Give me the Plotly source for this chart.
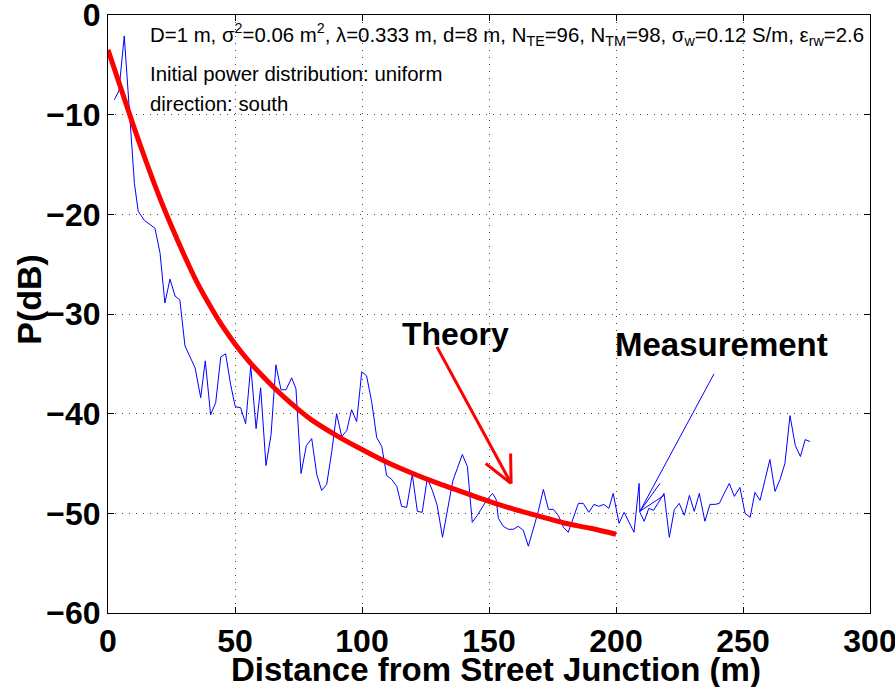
import plotly.graph_objects as go

# ---------------- data ----------------
meas_x = [2.5, 4.3, 6.4, 8.7, 10.4, 11.9, 14.3, 18.5, 20.5, 22.4, 24.4, 26.4, 28.3,
          30.3, 34.3, 36.5, 38.3, 40.4, 42.4, 44.4, 46.3, 48.3, 50.1, 52.2, 54.2,
          56.2, 58.3, 60.1, 62.2, 64.2, 66.1, 68.1, 70.1, 72.3, 74.0, 76.0, 78.1,
          80.2, 82.2, 84.1, 86.1, 88.1, 90.0, 92.0, 94.0, 95.9, 97.9, 99.9, 101.8,
          103.8, 105.8, 107.8, 109.7, 111.7, 113.7, 115.6, 117.6, 119.8, 121.8,
          123.7, 125.7, 127.7, 129.6, 131.7, 133.6, 135.7, 137.5, 139.5, 141.5,
          143.4, 145.4, 147.4, 149.3, 151.4, 152.8, 153.7, 155.6, 157.6, 159.6,
          161.5, 163.5, 165.5, 167.4, 169.4, 171.4, 173.4, 175.3, 177.3, 179.3,
          181.2, 185.2, 187.1, 189.3, 191.3, 193.2, 195.2, 197.2, 198.9, 201.2,
          203.2, 207.1, 209.1, 209.4, 211.1, 212.9, 214.8, 218.9, 221.0, 223.0,
          224.9, 226.9, 228.9, 230.8, 232.8, 235.0, 237.0, 239.0, 240.7, 242.6,
          244.6, 246.6, 248.8, 250.8, 252.8, 254.7, 256.7, 258.7, 260.6, 262.6,
          264.6, 266.5, 268.5, 270.6, 272.6, 274.5, 276.4]
meas_y = [-8.5, -7.6, -2.1, -10.2, -16.9, -19.7, -20.6, -21.4, -23.9, -28.9, -26.5,
          -28.2, -28.6, -33.2, -35.4, -38.4, -34.7, -40.1, -38.9, -34.3, -34.0,
          -37.1, -39.3, -39.4, -41.0, -35.2, -41.5, -37.4, -45.2, -42.1, -35.1,
          -37.6, -37.6, -36.4, -37.5, -46.0, -43.2, -42.5, -46.1, -47.7, -47.1,
          -43.8, -40.0, -42.3, -41.7, -39.6, -40.8, -35.8, -36.2, -38.8, -42.4,
          -43.3, -46.2, -46.6, -47.3, -49.3, -49.4, -46.1, -49.8, -49.9, -46.5,
          -47.7, -49.2, -52.4, -49.8, -46.8, -45.5, -44.1, -45.3, -50.9, -50.2,
          -49.4, -48.6, -48.0, -48.6, -50.5, -51.3, -51.6, -51.6, -51.3, -51.7,
          -53.3, -51.5, -49.8, -47.6, -49.6, -49.6, -50.2, -51.4, -51.9, -49.0,
          -49.0, -49.9, -49.1, -49.3, -49.1, -49.5, -48.0, -51.0, -49.9, -51.9,
          -47.0, -49.9, -50.8, -49.5, -49.7, -48.0, -52.4, -49.6, -49.0, -50.2,
          -48.2, -49.8, -48.0, -50.8, -49.1, -49.1, -49.0, -48.0, -47.0, -48.3,
          -47.4, -50.0, -50.4, -47.9, -48.7, -46.6, -44.6, -47.8, -46.6, -45.0,
          -40.2, -43.2, -44.3, -42.6, -42.8]

theory_x = [0, 5, 10, 15, 20, 25, 30, 35, 40, 45, 50, 55, 60, 65, 70, 75, 80, 90,
            100, 110, 120, 130, 140, 150, 160, 170, 180, 190, 200]
theory_y = [-3.5, -7.3, -11.1, -14.7, -18.1, -21.2, -24.1, -26.8, -29.1, -31.2,
            -33.0, -34.6, -36.0, -37.3, -38.5, -39.6, -40.6, -42.2, -43.6, -44.9,
            -46.0, -47.0, -47.9, -48.8, -49.6, -50.3, -51.0, -51.5, -52.1]

x_ticks = [0, 50, 100, 150, 200, 250, 300]
y_ticks = [0, -10, -20, -30, -40, -50, -60]

x_title = "Distance from Street Junction (m)"
y_title = "P(dB)"

info_lines = [
    "D=1 m, σ<sup>2</sup>=0.06 m<sup>2</sup>, λ=0.333 m, d=8 m, N<sub>TE</sub>=96, "
    "N<sub>TM</sub>=98, σ<sub>w</sub>=0.12 S/m, ε<sub>rw</sub>=2.6",
    "Initial power distribution: uniform",
    "direction: south",
]

# annotation arrows (data coordinates): tail, tip, head ends
theory_arrow = dict(tail=(129.5, -33.3), tip=(158.7, -47.0),
                    heads=[(158.5, -44.0), (148.7, -45.0)])
meas_arrow = dict(tail=(238.6, -36.0), tip=(209.4, -49.8),
                  heads=[(218.9, -48.2), (217.3, -47.0)])
theory_label = (137.0, -32.0)
meas_label = (241.7, -33.1)

FONT = "Liberation Sans, Arial, Helvetica, sans-serif"

fig = go.Figure()
fig.add_trace(go.Scatter(x=meas_x, y=meas_y, mode="lines",
                         line=dict(color="#0000ff", width=1), showlegend=False))
fig.add_trace(go.Scatter(x=theory_x, y=theory_y, mode="lines",
                         line=dict(color="#ff0000", width=5, shape="spline"),
                         showlegend=False))

def add_arrow(a, color, width):
    segs = [(a["tail"], a["tip"])] + [(a["tip"], h) for h in a["heads"]]
    for (x0, y0), (x1, y1) in segs:
        fig.add_shape(type="line", x0=x0, y0=y0, x1=x1, y1=y1, xref="x", yref="y",
                      line=dict(color=color, width=width))

add_arrow(theory_arrow, "#ff0000", 3)
add_arrow(meas_arrow, "#0000ff", 1)

fig.add_annotation(x=theory_label[0], y=theory_label[1], text="<b>Theory</b>",
                   showarrow=False, font=dict(family=FONT, size=32, color="black"))
fig.add_annotation(x=meas_label[0], y=meas_label[1], text="<b>Measurement</b>",
                   showarrow=False, font=dict(family=FONT, size=33, color="black"))

for txt, yp in zip(info_lines, [0.967, 0.902, 0.852]):
    fig.add_annotation(x=0.0525, y=yp, xref="paper", yref="paper", text=txt,
                       showarrow=False, xanchor="left", yanchor="middle",
                       font=dict(family=FONT, size=20.4, color="black"))

# axis titles
fig.add_annotation(x=0.509, y=-0.095, xref="paper", yref="paper",
                   text="<b>" + x_title + "</b>", showarrow=False,
                   xanchor="center", yanchor="middle",
                   font=dict(family=FONT, size=33, color="black"))
fig.add_annotation(x=-0.104, y=0.525, xref="paper", yref="paper",
                   text="<b>" + y_title + "</b>", showarrow=False, textangle=-90,
                   xanchor="center", yanchor="middle",
                   font=dict(family=FONT, size=34, color="black"))

axis_common = dict(showline=True, linecolor="black", linewidth=1, mirror="ticks",
                   ticks="inside", ticklen=6, tickcolor="black",
                   showgrid=True, gridcolor="#444444", gridwidth=1,
                   griddash="1px,6px", zeroline=False, ticklabeloverflow="allow",
                   tickfont=dict(family=FONT, size=32, color="black", weight="bold"))

fig.update_xaxes(range=[0, 300], tickvals=x_ticks, **axis_common)
fig.update_yaxes(range=[-60, 0], tickvals=y_ticks, **axis_common)

fig.update_layout(width=895, height=687, plot_bgcolor="white", paper_bgcolor="white",
                  margin=dict(l=108, r=25, t=15, b=74, autoexpand=False),
                  showlegend=False)

fig.write_html("out.html")
